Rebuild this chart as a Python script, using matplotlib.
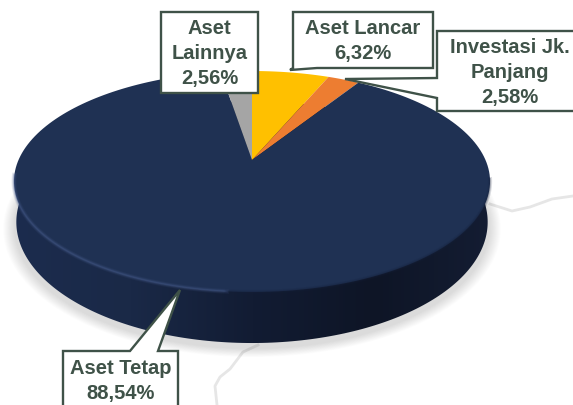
import numpy as np
import matplotlib
matplotlib.use("Agg")
import matplotlib.pyplot as plt
from matplotlib.patches import Polygon

categorias = ["Aset Lancar", "Investasi Jk.\nPanjang", "Aset Tetap", "Aset\nLainnya"]
valores = [6.32, 2.58, 88.54, 2.56]
etiquetas = ["6,32%", "2,58%", "88,54%", "2,56%"]
colores = ["#FFC000", "#ED7D31", "#1F3153", "#A5A5A5"]

plt.rcParams['font.family'] = ['Liberation Sans', 'DejaVu Sans']
verde = "#3F5248"

# Proyeccion en perspectiva del circulo del pie
K = 0.1946
CX, CY = 252, 160


def proyectar(theta, r=1.0, cy=CY, ex=1.0, ey=1.0):
    x = r * np.sin(theta)
    y = r * np.cos(theta)
    d = 1 + K * y
    return CX + ex * 233.5 * x / d, cy - ey * 106.3 * y / d


fig = plt.figure(figsize=(5.73, 4.05), dpi=100)
ax = fig.add_axes([0, 0, 1, 1])
ax.set_xlim(0, 573)
ax.set_ylim(405, 0)
ax.axis('off')

# Lineas grises del fondo
ax.plot([490, 512, 530, 552, 573], [204, 211, 207, 199, 196], color="#E6E6E6", lw=2, zorder=1)
ax.plot([258, 243, 230, 220, 215, 217], [345, 352, 369, 377, 386, 405], color="#E6E6E6", lw=2, zorder=1)

# Sombra
todo = np.linspace(0, 2 * np.pi, 361)
for i in range(12):
    sx, sy = proyectar(todo, 1.0 + 0.004 * (12 - i), cy=203, ex=0.995, ey=1.1)
    ax.fill(sx, sy, color="#808080", alpha=0.022, lw=0, zorder=2)

# Lateral del pie con degradado
lx, ly = proyectar(todo, cy=198.5, ex=0.99, ey=1.095)
lado = Polygon(np.column_stack([lx, ly]), closed=True, transform=ax.transData, fc="none", ec="none")
ax.add_patch(lado)
grad = np.linspace(0, 1, 256).reshape(1, -1)
cmap = matplotlib.colors.LinearSegmentedColormap.from_list(
    "lado", ["#1C2C4E", "#1A2947", "#121C33", "#0E1526", "#141D33"])
im = ax.imshow(grad, extent=[10, 495, 405, 0], cmap=cmap, aspect='auto', zorder=3)
im.set_clip_path(lado)
ax.set_xlim(0, 573)
ax.set_ylim(405, 0)

# Cara superior: sectores desde los valores, en sentido horario desde las 12
fracciones = np.cumsum([0] + valores) / sum(valores) * 2 * np.pi
for i in range(len(valores)):
    th = np.linspace(fracciones[i], fracciones[i + 1], 200)
    px, py = proyectar(th)
    ax.fill(np.r_[CX, px], np.r_[CY, py], color=colores[i], lw=0, zorder=4)

# Brillo del borde inferior
arco = np.linspace(np.radians(185), np.radians(262), 80)
bx, by = proyectar(arco)
for lw, al in [(3.5, 0.12), (2.2, 0.2), (1.0, 0.35)]:
    ax.plot(bx, by, color="#4A5F90", lw=lw, alpha=al, zorder=5)
arco = np.linspace(np.radians(100), np.radians(185), 80)
bx, by = proyectar(arco)
for lw, al in [(3.0, 0.15), (1.5, 0.25)]:
    ax.plot(bx, by, color="#16213B", lw=lw, alpha=al, zorder=5)


def globo(puntos):
    ax.add_patch(Polygon(puntos, closed=True, fc="white", ec=verde, lw=1.7, zorder=6, clip_on=True))


# Cajas de las etiquetas con su punta
globo([(161, 12), (258, 12), (258, 93), (161, 93)])
globo([(293, 12), (433, 12), (433, 68), (317, 68), (290, 70), (293, 68)])
globo([(437, 31), (590, 31), (590, 111), (437, 111), (437, 98), (345, 79), (437, 78)])
globo([(63, 351), (130, 351), (180, 290), (158, 351), (178, 351), (178, 420), (63, 420)])

posiciones = [(363, 41), (509.5, 72.5), (121, 381), (209.5, 53.5)]
for i in range(len(categorias)):
    ax.text(posiciones[i][0], posiciones[i][1], categorias[i] + "\n" + etiquetas[i],
            ha='center', va='center', fontsize=14.5, fontweight='bold', color=verde,
            linespacing=1.4, zorder=7)

fig.savefig("out.png", dpi=100)
